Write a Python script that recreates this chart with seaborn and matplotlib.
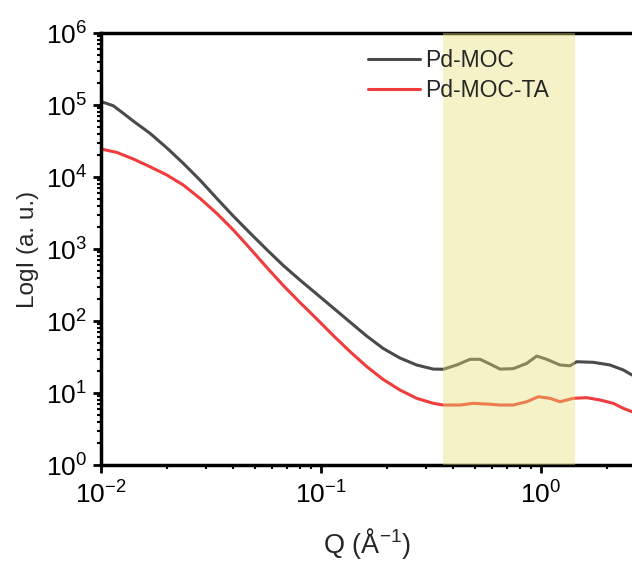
import matplotlib
matplotlib.use("Agg")
import matplotlib.pyplot as plt
import numpy as np
import pandas as pd
import seaborn as sns
from matplotlib.ticker import LogLocator, NullFormatter

# SAXS profiles: scattering vector Q (1/Å) and intensity (a.u.)
q_moc = [0.01000, 0.01137, 0.01263, 0.01402, 0.01670, 0.01989, 0.02366, 0.02818,
         0.03357, 0.03994, 0.04756, 0.05664, 0.06741, 0.08025, 0.09561, 0.1137,
         0.1354, 0.1613, 0.1919, 0.2286, 0.2723, 0.3239, 0.3597, 0.4138,
         0.4756, 0.5282, 0.5864, 0.6512, 0.7484, 0.8610, 0.9561, 1.061,
         1.220, 1.354, 1.453, 1.729, 2.059, 2.366, 2.592]
i_moc = [1.118e5, 9.78e4, 7.67e4, 5.99e4, 4.05e4, 2.55e4, 1.55e4, 9.08e3,
         5.06e3, 2.87e3, 1.67e3, 984, 590, 371, 237, 152,
         96.9, 61.9, 41.5, 30.6, 24.5, 21.5, 21.4, 24.5,
         29.4, 29.4, 25.3, 21.5, 21.8, 25.8, 32.6, 29.4,
         24.5, 23.9, 27.2, 26.7, 24.5, 20.9, 17.8]

q_ta = [0.01000, 0.01179, 0.01402, 0.01670, 0.01989, 0.02366, 0.02818, 0.03357,
        0.03994, 0.04756, 0.05664, 0.06741, 0.08025, 0.09561, 0.1137, 0.1354,
        0.1613, 0.1919, 0.2286, 0.2723, 0.3239, 0.3597, 0.4283, 0.4924,
        0.5664, 0.6512, 0.7484, 0.8610, 0.9721, 1.099, 1.220, 1.402,
        1.613, 1.854, 2.131, 2.366, 2.592]
i_ta = [2.45e4, 2.20e4, 1.78e4, 1.39e4, 1.07e4, 7.74e3, 5.06e3, 3.13e3,
        1.84e3, 1.02e3, 557, 311, 181, 107, 62.9, 37.7,
        23.3, 15.4, 11.0, 8.44, 7.19, 6.81, 6.81, 7.19,
        7.03, 6.81, 6.81, 7.57, 8.88, 8.44, 7.57, 8.44,
        8.61, 8.00, 7.19, 6.13, 5.50]

samples = ["Pd-MOC", "Pd-MOC-TA"]
colors = ["#4a4a4a", "#f03c3c"]
band = (0.358, 1.43)

df = pd.concat([
    pd.DataFrame({"Q": q_moc, "I": i_moc, "sample": samples[0]}),
    pd.DataFrame({"Q": q_ta, "I": i_ta, "sample": samples[1]}),
], ignore_index=True)

sns.set_theme(style="ticks")
plt.rcParams["font.family"] = ["Liberation Sans", "DejaVu Sans"]
plt.rcParams["mathtext.fontset"] = "custom"
plt.rcParams["mathtext.rm"] = "Liberation Sans"
plt.rcParams["mathtext.default"] = "regular"

fig = plt.figure(figsize=(6.32, 5.61), dpi=100)
ax = fig.add_axes([0.1598, 0.1711, 0.8402, 0.770])

sns.lineplot(data=df, x="Q", y="I", hue="sample", hue_order=samples,
             palette=colors, linewidth=2.2, sort=False, ax=ax)

ax.set_xscale("log")
ax.set_yscale("log")
ax.set_xlim(0.01, 2.592)
ax.set_ylim(1, 1e6)

# highlighted Q window, laid over the curves
ax.axvspan(*band, color=(229 / 255, 224 / 255, 114 / 255), alpha=0.4,
           lw=0, zorder=3)

for side in ["left", "bottom", "top"]:
    ax.spines[side].set_linewidth(2.5)
    ax.spines[side].set_color("black")
ax.spines["right"].set_visible(False)

ax.yaxis.set_minor_locator(LogLocator(base=10, subs=np.arange(2, 10), numticks=30))
ax.yaxis.set_minor_formatter(NullFormatter())
ax.xaxis.set_minor_locator(LogLocator(base=10, subs=np.arange(2, 10), numticks=30))
ax.xaxis.set_minor_formatter(NullFormatter())
ax.yaxis.set_major_locator(LogLocator(base=10, numticks=10))

ax.tick_params(which="major", direction="out", length=6, width=2,
               labelsize=19, pad=4, color="black", labelcolor="black")
ax.tick_params(which="minor", direction="out", length=3, width=1.5, color="black")
ax.tick_params(axis="x", which="major", pad=6)

ax.set_xlabel(r"Q (Å$^{\mathregular{-1}}$)", fontsize=19.5, labelpad=12)
ax.set_ylabel("LogI (a. u.)", fontsize=17.5, labelpad=5)

ax.legend(frameon=False, fontsize=16.5, loc="upper left",
          bbox_to_anchor=(0.503, 0.962), borderpad=0, borderaxespad=0,
          handlelength=2.27, handletextpad=0.22, labelspacing=0.3)

fig.savefig("out.png", dpi=100)
